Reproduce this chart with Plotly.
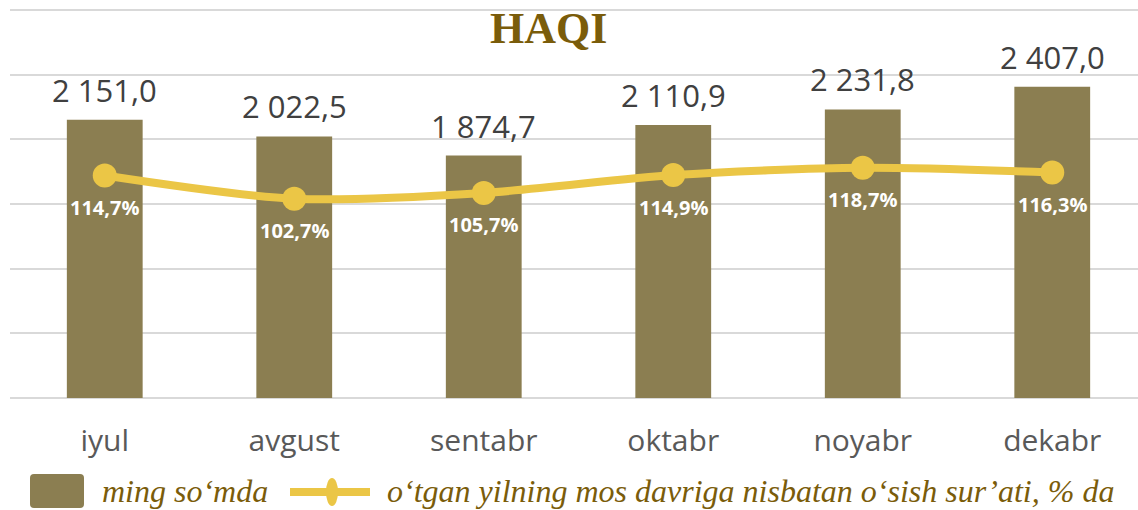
import plotly.graph_objects as go

# ---- data ----
months = ["iyul", "avgust", "sentabr", "oktabr", "noyabr", "dekabr"]
wage_thousand_sum = [2151.0, 2022.5, 1874.7, 2110.9, 2231.8, 2407.0]
growth_pct = [114.7, 102.7, 105.7, 114.9, 118.7, 116.3]
title_text = "HAQI"
bar_name = "ming so‘mda"
line_name = "o‘tgan yilning mos davriga nisbatan o‘sish sur’ati, % da"

# ---- styles ----
BAR_COLOR = "#8B7E51"
LINE_COLOR = "#EBC646"
TITLE_COLOR = "#7A5C0A"
TEXT_DARK = "#404040"
TICK_COLOR = "#595959"
GRID_COLOR = "#D9D9D9"

W, H = 1138, 510
ML, MR, MT, MB = 10, 0, 9, 112
PW, PH = W - ML - MR, H - MT - MB


def px_x(px):
    return (px - ML) / PW


def px_y(py):
    return (H - MB - py) / PH


def fmt_num(v):
    return f"{v:,.1f}".replace(",", " ").replace(".", ",")


def fmt_pct(v):
    return f"{v:.1f}".replace(".", ",") + "%"


fig = go.Figure()

fig.add_trace(go.Bar(
    x=months, y=wage_thousand_sum, name=bar_name,
    marker=dict(color=BAR_COLOR, line=dict(width=0)),
    width=0.4, showlegend=False, hoverinfo="skip",
))

fig.add_trace(go.Scatter(
    x=months, y=growth_pct, name=line_name, yaxis="y2",
    mode="lines+markers",
    line=dict(color=LINE_COLOR, width=8, shape="spline", smoothing=0.8),
    marker=dict(color=LINE_COLOR, size=24),
    showlegend=False, hoverinfo="skip",
))

annotations = []
for m, v in zip(months, wage_thousand_sum):
    annotations.append(dict(
        x=m, y=v, xref="x", yref="y", text=fmt_num(v), showarrow=False,
        yanchor="middle", xanchor="center", yshift=30,
        font=dict(family="Open Sans", size=31, color=TEXT_DARK),
    ))
for m, v in zip(months, growth_pct):
    annotations.append(dict(
        x=m, y=v, xref="x", yref="y2", text=fmt_pct(v), showarrow=False,
        yanchor="middle", xanchor="center", yshift=-32,
        font=dict(family="Open Sans", size=20, color="white", weight="bold"),
    ))

# title
annotations.append(dict(
    x=px_x(548), y=px_y(28), xref="paper", yref="paper", text=f"<b>{title_text}</b>",
    showarrow=False, xanchor="center", yanchor="middle",
    font=dict(family="Liberation Serif", size=44, color=TITLE_COLOR),
))

# legend texts
legend_font = dict(family="Liberation Serif", size=32, color=TITLE_COLOR, style="italic")
annotations.append(dict(
    x=px_x(100), y=px_y(491), xref="paper", yref="paper", text=bar_name,
    showarrow=False, xanchor="left", yanchor="middle", font=legend_font,
))
annotations.append(dict(
    x=px_x(385), y=px_y(491), xref="paper", yref="paper", text=line_name,
    showarrow=False, xanchor="left", yanchor="middle", font=legend_font,
))

# legend symbols
x0, x1, y0, y1, r = 30, 84, 474, 508, 4
path = (
    f"M{px_x(x0 + r)},{px_y(y0)} L{px_x(x1 - r)},{px_y(y0)} "
    f"Q{px_x(x1)},{px_y(y0)} {px_x(x1)},{px_y(y0 + r)} "
    f"L{px_x(x1)},{px_y(y1 - r)} Q{px_x(x1)},{px_y(y1)} {px_x(x1 - r)},{px_y(y1)} "
    f"L{px_x(x0 + r)},{px_y(y1)} Q{px_x(x0)},{px_y(y1)} {px_x(x0)},{px_y(y1 - r)} "
    f"L{px_x(x0)},{px_y(y0 + r)} Q{px_x(x0)},{px_y(y0)} {px_x(x0 + r)},{px_y(y0)} Z"
)
shapes = [
    dict(type="path", path=path, xref="paper", yref="paper",
         fillcolor=BAR_COLOR, line=dict(width=0)),
    dict(type="line", xref="paper", yref="paper",
         x0=px_x(290), x1=px_x(370), y0=px_y(492), y1=px_y(492),
         line=dict(color=LINE_COLOR, width=8)),
    dict(type="circle", xref="paper", yref="paper",
         x0=px_x(326), x1=px_x(338), y0=px_y(478), y1=px_y(506),
         fillcolor=LINE_COLOR, line=dict(width=0)),
]

fig.update_layout(
    width=W, height=H,
    margin=dict(l=ML, r=MR, t=MT, b=MB),
    paper_bgcolor="white", plot_bgcolor="white",
    showlegend=False,
    bargap=0.6,
    xaxis=dict(
        range=[-0.5, -0.5 + PW / 189.5],
        showgrid=False, showline=False, zeroline=False, ticks="",
        tickfont=dict(family="Open Sans", size=30, color=TICK_COLOR),
        ticklabelstandoff=22,
    ),
    yaxis=dict(
        range=[0, 3008], tick0=0, dtick=500, showgrid=True, gridcolor=GRID_COLOR, gridwidth=1.5,
        showticklabels=False, zeroline=True, zerolinecolor=GRID_COLOR, zerolinewidth=1.5,
        showline=False, ticks="",
    ),
    yaxis2=dict(
        range=[0, 200 * 3008 / 3000], overlaying="y", side="right", showgrid=False,
        showticklabels=False, zeroline=False, showline=False, ticks="",
    ),
    annotations=annotations,
    shapes=shapes,
)

fig.write_html(
    "out.html",
    config={"displayModeBar": False},
    post_script="document.body.style.margin='0';document.body.style.overflow='hidden';",
)
